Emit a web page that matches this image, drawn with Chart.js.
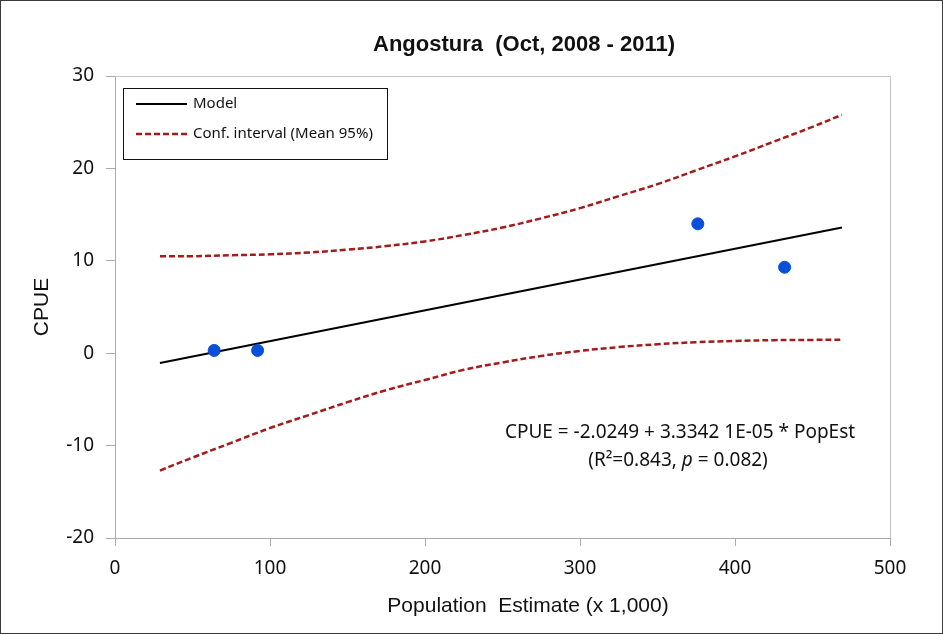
<!DOCTYPE html>
<html><head><meta charset="utf-8">
<script src="https://cdn.jsdelivr.net/npm/chart.js@4/dist/chart.umd.min.js"></script>
<style>html,body{margin:0;padding:0;background:#fff}#wrap{width:943px;height:634px;position:relative}</style>
</head><body><div id="wrap"><canvas id="c" width="943" height="634"></canvas></div>
<script>
const chartTitle = 'Angostura  (Oct, 2008 - 2011)';
const xAxisTitle = 'Population  Estimate (x 1,000)';
const yAxisTitle = 'CPUE';
const xTickValues = [0, 100, 200, 300, 400, 500];
const yTickValues = [-20, -10, 0, 10, 20, 30];
const obsPop = [64, 92, 376, 432];
const obsCpue = [0.3, 0.3, 14.0, 9.3];
const modelPop = [29, 469];
const modelCpue = [-1.06, 13.61];
const ciPop = [29, 50, 75, 100, 125, 150, 175, 200, 225, 250, 275, 300, 325, 350, 375, 400, 425, 450, 469];
const ciUpper = [10.5, 10.5, 10.6, 10.7, 10.9, 11.2, 11.6, 12.1, 12.8, 13.6, 14.6, 15.7, 17.0, 18.3, 19.8, 21.3, 22.9, 24.5, 25.8];
const ciLower = [-12.7, -11.3, -9.7, -8.1, -6.7, -5.3, -4.0, -2.9, -1.8, -1.0, -0.3, 0.25, 0.66, 0.97, 1.19, 1.33, 1.41, 1.44, 1.45];
const legendLabels = ['Model', 'Conf. interval (Mean 95%)'];
const equationLine1 = 'CPUE = -2.0249 + 3.3342 1E-05 * PopEst';
const equationLine2 = ['(R\u00B2=0.843, ', 'p', ' = 0.082)'];

const toPts = (xs, ys) => xs.map((x, i) => ({x: x, y: ys[i]}));
const RED = '#a31b1b';
const BLUE = '#0a4fd9';
const AXIS = '#aaaaaa';

const decor = {
  id: 'decor',
  beforeDraw(chart) {
    const c = chart.ctx; c.save(); c.fillStyle = '#fff'; c.fillRect(0, 0, chart.width, chart.height); c.restore();
  },
  afterDraw(chart) {
    const ctx = chart.ctx, a = chart.chartArea;
    ctx.save();
    // plot area top/right border
    ctx.strokeStyle = '#c4c4c4'; ctx.lineWidth = 1;
    ctx.beginPath();
    ctx.moveTo(a.left, Math.floor(a.top) + 0.5);
    ctx.lineTo(Math.floor(a.right) + 0.5, Math.floor(a.top) + 0.5);
    ctx.lineTo(Math.floor(a.right) + 0.5, a.bottom);
    ctx.stroke();
    // outer border
    ctx.strokeStyle = '#3a3a3a';
    ctx.strokeRect(0.5, 0.5, chart.width - 1, chart.height - 1);
    // title
    ctx.fillStyle = '#111';
    ctx.font = 'bold 22px "Liberation Sans", Arial, sans-serif';
    ctx.textAlign = 'center'; ctx.textBaseline = 'middle';
    ctx.fillText(chartTitle, 524, 45);
    // x axis title
    ctx.font = '21px "Liberation Sans", Arial, sans-serif';
    ctx.fillText(xAxisTitle, 528, 606);
    // legend
    const lx = 123, ly = 88, lw = 264, lh = 71;
    ctx.fillStyle = '#fff'; ctx.fillRect(lx, ly, lw, lh);
    ctx.strokeStyle = '#111'; ctx.lineWidth = 1;
    ctx.strokeRect(lx + 0.5, ly + 0.5, lw, lh);
    const ds = chart.data.datasets;
    const items = [ds[1], ds[2]];
    items.forEach((d, i) => {
      const y = ly + 16 + i * 30;
      ctx.beginPath();
      ctx.strokeStyle = d.borderColor; ctx.lineWidth = d.borderWidth;
      ctx.setLineDash(d.borderDash || []);
      ctx.moveTo(lx + 13, y); ctx.lineTo(lx + 64, y); ctx.stroke();
      ctx.setLineDash([]);
      ctx.fillStyle = '#111';
      ctx.font = '15px "Noto Sans", sans-serif';
      ctx.textAlign = 'left'; ctx.textBaseline = 'middle';
      ctx.fillText(legendLabels[i], lx + 70, y);
    });
    // equation
    ctx.fillStyle = '#111';
    const f1 = '19px "Noto Sans", sans-serif', f2 = 'italic 19px "Noto Sans", sans-serif';
    ctx.font = f1;
    ctx.textAlign = 'center'; ctx.textBaseline = 'middle';
    ctx.fillText(equationLine1, 680, 433);
    const w0 = ctx.measureText(equationLine2[0]).width; const w2 = ctx.measureText(equationLine2[2]).width;
    ctx.font = f2; const w1 = ctx.measureText(equationLine2[1]).width;
    let sx = 678 - (w0 + w1 + w2) / 2;
    ctx.textAlign = 'left';
    ctx.font = f1; ctx.fillText(equationLine2[0], sx, 461); sx += w0;
    ctx.font = f2; ctx.fillText(equationLine2[1], sx, 461); sx += w1;
    ctx.font = f1; ctx.fillText(equationLine2[2], sx, 461);
    ctx.restore();
  }
};

new Chart(document.getElementById('c'), {
  type: 'scatter',
  data: {
    datasets: [
      {label: 'Observed', data: toPts(obsPop, obsCpue), backgroundColor: BLUE, borderColor: BLUE, pointRadius: 6, pointHoverRadius: 6, showLine: false, order: 0},
      {label: legendLabels[0], data: toPts(modelPop, modelCpue), showLine: true, borderColor: '#000', borderWidth: 2, pointRadius: 0, order: 1},
      {label: legendLabels[1], data: toPts(ciPop, ciUpper), showLine: true, borderColor: RED, borderWidth: 2.5, borderDash: [6, 3], pointRadius: 0, tension: 0.4, order: 2},
      {label: legendLabels[1] + ' lower', data: toPts(ciPop, ciLower), showLine: true, borderColor: RED, borderWidth: 2.5, borderDash: [6, 3], pointRadius: 0, tension: 0.4, order: 2}
    ]
  },
  options: {
    responsive: false,
    animation: false,
    layout: {padding: {top: 76, right: 53, left: 0, bottom: 0}},
    plugins: {legend: {display: false}, title: {display: false}, tooltip: {enabled: false}},
    scales: {
      x: {
        type: 'linear', min: 0, max: 500,
        afterBuildTicks: s => { s.ticks = xTickValues.map(v => ({value: v})); },
        afterFit: s => { s.height = 96; },
        grid: {drawOnChartArea: false, color: AXIS, tickLength: 8},
        border: {color: AXIS},
        ticks: {color: '#111', padding: 11, font: {family: '"Noto Sans", sans-serif', size: 19}},
        title: {display: false, text: xAxisTitle}
      },
      y: {
        type: 'linear', min: -20, max: 30,
        afterBuildTicks: s => { s.ticks = yTickValues.map(v => ({value: v})); },
        afterFit: s => { s.width = 115; },
        grid: {drawOnChartArea: false, color: AXIS, tickLength: 9},
        border: {color: AXIS},
        ticks: {color: '#111', padding: 12, font: {family: '"Noto Sans", sans-serif', size: 19}},
        title: {display: true, text: yAxisTitle, color: '#111', padding: {top: 30, bottom: 0}, font: {family: '"Liberation Sans", Arial, sans-serif', size: 21}}
      }
    }
  },
  plugins: [decor]
});
</script></body></html>
